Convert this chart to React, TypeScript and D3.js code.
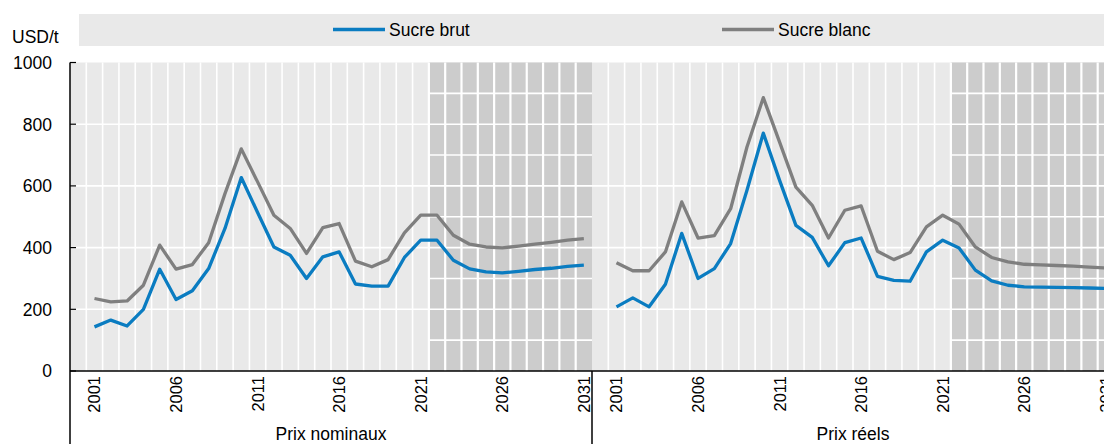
import React, { useEffect, useRef } from 'react';
import * as d3 from 'd3';

// categories
const years = [
  '2001', '2002', '2003', '2004', '2005', '2006', '2007', '2008', '2009', '2010',
  '2011', '2012', '2013', '2014', '2015', '2016', '2017', '2018', '2019', '2020',
  '2021', '2022', '2023', '2024', '2025', '2026', '2027', '2028', '2029', '2030', '2031',
];
const tickYears = ['2001', '2006', '2011', '2016', '2021', '2026', '2031'];
const projectionStart = '2022';

// Prix nominaux (USD/t)
const nominalRaw = [
  143, 165, 146, 200, 330, 232, 260, 332, 462, 627,
  514, 402, 375, 300, 370, 386, 282, 275, 275, 368,
  424, 424, 359, 331, 321, 318, 323, 329, 333, 339, 343,
];
const nominalWhite = [
  235, 224, 227, 278, 408, 330, 345, 416, 575, 720,
  613, 505, 462, 381, 465, 478, 356, 338, 361, 448,
  505, 505, 440, 411, 402, 399, 405, 411, 417, 424, 429,
];

// Prix réels (USD/t)
const realRaw = [
  208, 237, 208, 281, 446, 300, 332, 413, 586, 771,
  618, 472, 433, 341, 416, 431, 307, 294, 291, 386,
  424, 399, 327, 292, 278, 273, 272, 271, 270, 269, 268,
];
const realWhite = [
  351, 325, 325, 386, 548, 431, 439, 526, 726, 886,
  742, 596, 537, 431, 521, 535, 388, 361, 384, 467,
  505, 476, 402, 368, 354, 346, 344, 342, 340, 337, 334,
];

const yTicks = [0, 200, 400, 600, 800, 1000];
const majorGrid = [200, 400, 600, 800];
const minorGrid = [100, 300, 500, 700, 900];

const seriesNames = ['Sucre brut', 'Sucre blanc'];
const colors = { 'Sucre brut': '#0a7cc1', 'Sucre blanc': '#7f7f7f' };

const panels = [
  { title: 'Prix nominaux', x0: 70, brut: nominalRaw, blanc: nominalWhite },
  { title: 'Prix réels', x0: 592, brut: realRaw, blanc: realWhite },
];

const App = () => {
  const ref = useRef(null);

  useEffect(() => {
    document.body.style.margin = '0';
    const width = 1104;
    const height = 444;
    const panelWidth = 522;
    const font = '"Liberation Sans", Arial, sans-serif';

    const svg = d3.select(ref.current)
      .attr('width', width)
      .attr('height', height)
      .style('display', 'block')
      .style('font-family', font);

    svg.selectAll('*').remove();

    const y = d3.scaleLinear().domain([0, 1000]).range([371, 62.5]);

    panels.forEach(p => {
      const x = d3.scaleBand()
        .domain(['', ...years])
        .range([p.x0, p.x0 + panelWidth])
        .padding(0);
      const bw = x.bandwidth();
      const projX = x(projectionStart);
      const right = p.x0 + panelWidth;

      const g = svg.append('g');

      // background
      g.append('rect')
        .attr('x', p.x0).attr('y', y(1000))
        .attr('width', panelWidth).attr('height', y(0) - y(1000))
        .attr('fill', '#e9e9e9');
      g.append('rect')
        .attr('x', projX).attr('y', y(1000))
        .attr('width', right - projX).attr('height', y(0) - y(1000))
        .attr('fill', '#cccccc');

      // grid lines
      g.selectAll('.hmaj')
        .data(majorGrid)
        .enter().append('line')
        .attr('x1', p.x0).attr('x2', right)
        .attr('y1', d => y(d)).attr('y2', d => y(d))
        .attr('stroke', '#fff').attr('stroke-width', 1.6);
      g.selectAll('.hmin')
        .data(minorGrid)
        .enter().append('line')
        .attr('x1', projX).attr('x2', right)
        .attr('y1', d => y(d)).attr('y2', d => y(d))
        .attr('stroke', '#fff').attr('stroke-width', 1.6);
      g.selectAll('.vgrid')
        .data(years)
        .enter().append('line')
        .attr('x1', d => x(d)).attr('x2', d => x(d))
        .attr('y1', y(1000)).attr('y2', y(0))
        .attr('stroke', '#fff')
        .attr('stroke-width', d => (+d >= +projectionStart ? 2.2 : 1.6));

      // lines
      const line = d3.line()
        .x((d, i) => x(years[i]) + bw / 2)
        .y(d => y(d));

      [['Sucre blanc', p.blanc], ['Sucre brut', p.brut]].forEach(([name, vals]) => {
        g.append('path')
          .datum(vals)
          .attr('d', line)
          .attr('fill', 'none')
          .attr('stroke', colors[name])
          .attr('stroke-width', 3.3)
          .attr('stroke-linejoin', 'round');
      });

      // year ticks
      g.selectAll('.yl')
        .data(tickYears)
        .enter().append('text')
        .attr('transform', d => `translate(${x(d) + bw / 2},376) rotate(-90)`)
        .attr('text-anchor', 'end')
        .attr('dy', '0.36em')
        .attr('font-size', 16.5)
        .attr('fill', '#000')
        .text(d => d);

      g.append('text')
        .attr('x', p.x0 + panelWidth / 2 + 0)
        .attr('y', 440)
        .attr('text-anchor', 'middle')
        .attr('font-size', 17.5)
        .attr('fill', '#000')
        .text(p.title);

      // panel separator
      g.append('line')
        .attr('x1', p.x0).attr('x2', p.x0)
        .attr('y1', p.x0 === 70 ? y(1000) : y(0)).attr('y2', height)
        .attr('stroke', '#000').attr('stroke-width', 1.5);
    });

    // x axis baseline
    svg.append('line')
      .attr('x1', 70).attr('x2', width)
      .attr('y1', y(0)).attr('y2', y(0))
      .attr('stroke', '#000').attr('stroke-width', 1.5);

    // y ticks & labels
    svg.selectAll('.ytick')
      .data(yTicks)
      .enter().append('line')
      .attr('x1', 70).attr('x2', 76)
      .attr('y1', d => y(d)).attr('y2', d => y(d))
      .attr('stroke', '#000').attr('stroke-width', 1.2);
    svg.selectAll('.ylab')
      .data(yTicks)
      .enter().append('text')
      .attr('x', 52)
      .attr('y', d => y(d))
      .attr('dy', '0.36em')
      .attr('text-anchor', 'end')
      .attr('font-size', 17.5)
      .attr('fill', '#000')
      .text(d => d);

    svg.append('text')
      .attr('x', 12).attr('y', 43)
      .attr('font-size', 17.5)
      .attr('fill', '#000')
      .text('USD/t');

    // legend
    svg.append('rect')
      .attr('x', 79).attr('y', 14)
      .attr('width', width - 79).attr('height', 32)
      .attr('fill', '#e9e9e9');
    const legendX = { 'Sucre brut': 333, 'Sucre blanc': 722 };
    seriesNames.forEach(name => {
      const lx = legendX[name];
      svg.append('line')
        .attr('x1', lx).attr('x2', lx + 52)
        .attr('y1', 29.5).attr('y2', 29.5)
        .attr('stroke', colors[name]).attr('stroke-width', 3.5);
      svg.append('text')
        .attr('x', lx + 56).attr('y', 29.5)
        .attr('dy', '0.36em')
        .attr('font-size', 17.5)
        .attr('fill', '#000')
        .text(name);
    });
  }, []);

  return <svg ref={ref}></svg>;
};

export default App;
